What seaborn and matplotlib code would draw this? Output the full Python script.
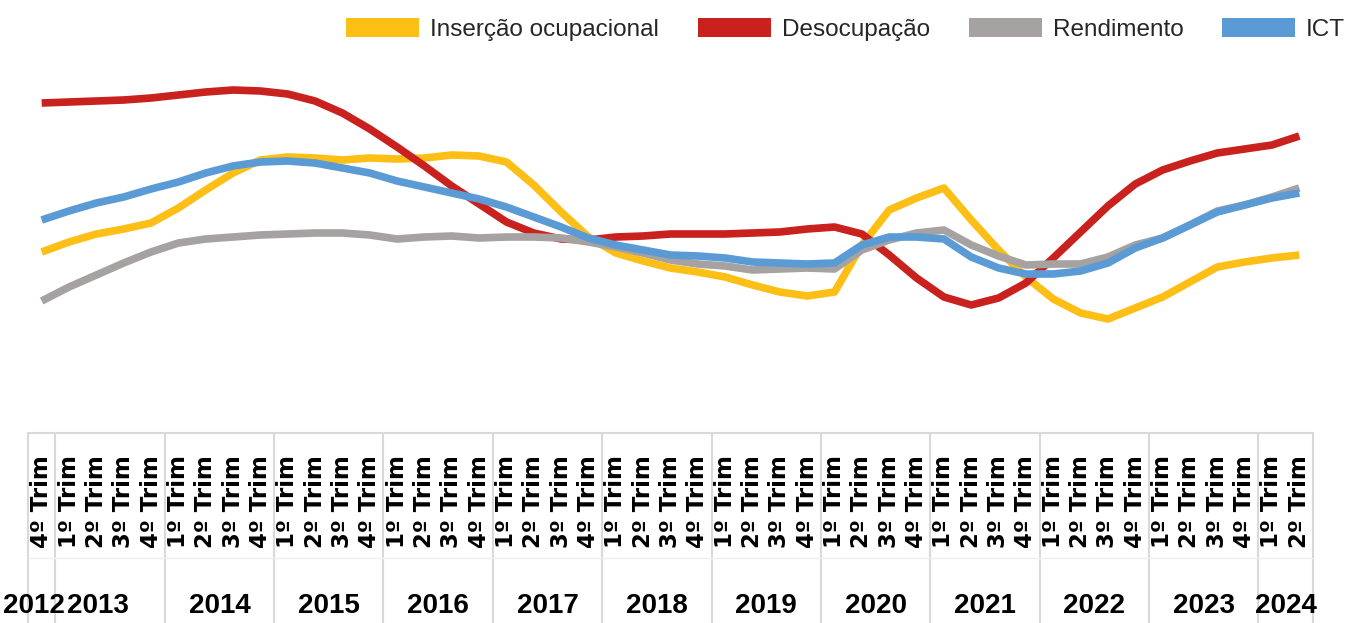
import numpy as np
import pandas as pd
import matplotlib.pyplot as plt
import seaborn as sns
from matplotlib.patches import Patch

# periodos: 4º trim 2012 ate 2º trim 2024
anos = [2012] + [a for a in range(2013, 2024) for _ in range(4)] + [2024, 2024]
trims = [4] + [1, 2, 3, 4] * 11 + [1, 2]
rotulos = [f"{t}º Trim" for t in trims]

# valores (indice sem escala)
insercao = [148, 158, 166, 171, 177, 192, 210, 227, 240, 243, 242, 240, 242, 241, 242, 245,
            244, 238, 215, 188, 163, 147, 139, 132, 128, 123, 115, 108, 104, 108, 155, 190,
            202, 212, 180, 150, 123, 101, 87, 81, 92, 103, 118, 133, 138, 142, 145]
desocupacao = [297, 298, 299, 300, 302, 305, 308, 310, 309, 306, 299, 287, 271, 253, 234, 214,
               196, 178, 167, 161, 160, 163, 164, 166, 166, 166, 167, 168, 171, 173, 166, 145,
               122, 103, 95, 102, 117, 142, 168, 194, 216, 230, 239, 247, 251, 255, 264]
rendimento = [99, 113, 125, 137, 148, 157, 161, 163, 165, 166, 167, 167, 165, 161, 163, 164,
              162, 163, 163, 162, 158, 153, 147, 140, 136, 134, 130, 131, 132, 131, 150, 160,
              167, 170, 155, 144, 135, 136, 136, 143, 155, 162, 175, 189, 195, 203, 212]
ict = [180, 189, 197, 203, 211, 218, 227, 234, 238, 239, 237, 232, 227, 219, 213, 207,
       201, 193, 183, 173, 162, 155, 150, 145, 144, 142, 138, 137, 136, 137, 155, 163,
       163, 161, 143, 132, 126, 126, 129, 137, 152, 162, 175, 188, 195, 202, 207]

series = ["Inserção ocupacional", "Desocupação", "Rendimento", "ICT"]
cores = ["#FDBF16", "#C9211E", "#A5A2A1", "#5B9BD5"]

df = pd.DataFrame({
    "periodo": range(len(rotulos)),
    "Inserção ocupacional": insercao,
    "Desocupação": desocupacao,
    "Rendimento": rendimento,
    "ICT": ict,
})
df_long = df.melt(id_vars="periodo", var_name="serie", value_name="valor")

sns.set_theme(style="white")
plt.rcParams['font.family'] = ['Liberation Sans', 'DejaVu Sans']

fig = plt.figure(figsize=(13.45, 6.23), dpi=100)
ax = fig.add_axes([28 / 1345, 190 / 623, 1285 / 1345, 373 / 623])

sns.lineplot(data=df_long, x="periodo", y="valor", hue="serie", hue_order=series,
             palette=cores, linewidth=5.5, legend=False, ax=ax,
             solid_capstyle="butt", solid_joinstyle="round")

ax.set_xlim(-0.5, len(rotulos) - 0.5)
ax.set_ylim(-33, 340)
ax.set_yticks([])
ax.set_xlabel("")
ax.set_ylabel("")
for s in ["top", "left", "right"]:
    ax.spines[s].set_visible(False)
ax.spines["bottom"].set_color("#d9d9d9")
ax.spines["bottom"].set_linewidth(1.5)

ax.set_xticks(range(len(rotulos)))
ax.set_xticklabels(rotulos, rotation=90, fontsize=16.5, fontweight="bold",
                   family="DejaVu Sans", color="black")
ax.tick_params(axis="x", length=0, pad=15.8)

# divisao por ano na tabela de categorias
trans = ax.get_xaxis_transform()
limites = [-0.5] + [i - 0.5 for i in range(1, len(anos)) if anos[i] != anos[i - 1]] + [len(anos) - 0.5]
ax.vlines(limites, -0.51, 0, transform=trans, colors="#d9d9d9", linewidth=1.5, clip_on=False)
ax.hlines(-0.334, -0.5, len(anos) - 0.5, transform=trans, colors="#efefef", linewidth=1, clip_on=False)

# rotulos dos anos
ajuste = {2012: -0.3, 2013: -0.45}
for a in sorted(set(anos)):
    idx = [i for i, v in enumerate(anos) if v == a]
    centro = (idx[0] + idx[-1]) / 2 + ajuste.get(a, 0)
    ax.text(centro, -0.4826, str(a), transform=trans, ha="center", va="baseline",
            fontsize=20, fontweight="bold", color="black", clip_on=False)

handles = [Patch(facecolor=c, edgecolor="none") for c in cores]
fig.legend(handles, series, loc="center right", bbox_to_anchor=(1.0, 0.953), ncol=4,
           frameon=False, fontsize=17.5, handlelength=3.0, handleheight=0.8,
           handletextpad=0.45, columnspacing=1.6, borderpad=0, borderaxespad=0)

fig.savefig("out.png", dpi=100)
